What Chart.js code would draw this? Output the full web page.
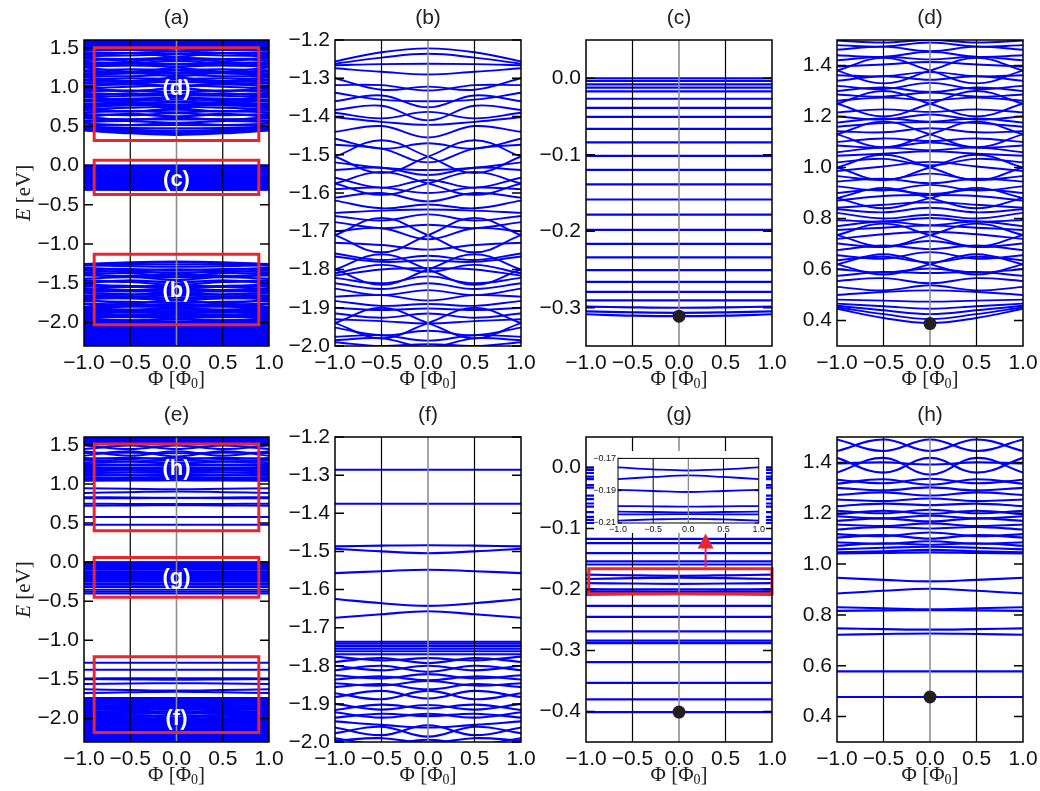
<!DOCTYPE html>
<html lang="en">
<head>
<meta charset="UTF-8">
<title>Flux spectra</title>
<script src="https://cdn.jsdelivr.net/npm/chart.js"></script>
<style>
  body { margin: 0; background: #fff; }
  #fig { position: relative; width: 1040px; height: 791px; overflow: hidden; }
  #fig canvas { position: absolute; }
</style>
</head>
<body>
<div id="fig"></div>
<script>
// flux grid the bands are read at, and tick values
const PHI = [-1, -0.5, 0, 0.5, 1];
const phiTicks = [-1, -0.5, 0, 0.5, 1];
const guidePhi = [-0.5, 0, 0.5];
const yTicksWide = [-2.0, -1.5, -1.0, -0.5, 0.0, 0.5, 1.0, 1.5];
const yTicksB = [-2.0, -1.9, -1.8, -1.7, -1.6, -1.5, -1.4, -1.3, -1.2];
const yTicksC = [-0.3, -0.2, -0.1, 0.0];
const yTicksD = [0.4, 0.6, 0.8, 1.0, 1.2, 1.4];
const yTicksG = [-0.4, -0.3, -0.2, -0.1, 0.0];
const insetTicks = [-0.21, -0.19, -0.17];

// (b) energies at PHI
const bBands = [
  [-1.256,-1.232,-1.222,-1.232,-1.256],
  [-1.262,-1.246,-1.236,-1.246,-1.262],
  [-1.266,-1.263,-1.262,-1.263,-1.266],
  [-1.274,-1.283,-1.290,-1.283,-1.274],
  [-1.300,-1.330,-1.322,-1.330,-1.300],
  [-1.318,-1.318,-1.332,-1.318,-1.318],
  [-1.338,-1.356,-1.360,-1.356,-1.338],
  [-1.360,-1.345,-1.376,-1.345,-1.360],
  [-1.383,-1.372,-1.410,-1.372,-1.383],
  [-1.390,-1.405,-1.388,-1.405,-1.390],
  [-1.402,-1.414,-1.422,-1.414,-1.402],
  [-1.440,-1.425,-1.455,-1.425,-1.440],
  [-1.505,-1.462,-1.505,-1.548,-1.505],
  [-1.505,-1.548,-1.505,-1.462,-1.505],
  [-1.458,-1.484,-1.470,-1.484,-1.458],
  [-1.474,-1.484,-1.520,-1.484,-1.474],
  [-1.520,-1.534,-1.540,-1.534,-1.520],
  [-1.540,-1.534,-1.553,-1.534,-1.540],
  [-1.575,-1.545,-1.575,-1.605,-1.575],
  [-1.575,-1.605,-1.575,-1.545,-1.575],
  [-1.560,-1.586,-1.566,-1.586,-1.560],
  [-1.590,-1.586,-1.600,-1.586,-1.590],
  [-1.612,-1.600,-1.622,-1.600,-1.612],
  [-1.620,-1.640,-1.630,-1.640,-1.620],
  [-1.652,-1.646,-1.643,-1.646,-1.652],
  [-1.660,-1.672,-1.656,-1.672,-1.660],
  [-1.710,-1.665,-1.710,-1.755,-1.710],
  [-1.710,-1.755,-1.710,-1.665,-1.710],
  [-1.676,-1.692,-1.683,-1.692,-1.676],
  [-1.700,-1.692,-1.721,-1.692,-1.700],
  [-1.730,-1.736,-1.748,-1.736,-1.730],
  [-1.758,-1.775,-1.764,-1.775,-1.758],
  [-1.766,-1.780,-1.776,-1.780,-1.766],
  [-1.800,-1.760,-1.800,-1.840,-1.800],
  [-1.800,-1.840,-1.800,-1.760,-1.800],
  [-1.810,-1.788,-1.806,-1.788,-1.810],
  [-1.816,-1.800,-1.796,-1.800,-1.816],
  [-1.822,-1.836,-1.818,-1.836,-1.822],
  [-1.836,-1.851,-1.836,-1.851,-1.836],
  [-1.850,-1.867,-1.854,-1.867,-1.850],
  [-1.871,-1.867,-1.881,-1.867,-1.871],
  [-1.882,-1.895,-1.890,-1.895,-1.882],
  [-1.900,-1.906,-1.902,-1.906,-1.900],
  [-1.915,-1.926,-1.915,-1.926,-1.915],
  [-1.930,-1.935,-1.941,-1.935,-1.930],
  [-1.940,-1.900,-1.940,-1.980,-1.940],
  [-1.940,-1.980,-1.940,-1.900,-1.940],
  [-1.952,-1.972,-1.960,-1.972,-1.952],
  [-1.976,-1.972,-1.986,-1.972,-1.976],
  [-1.990,-2.000,-1.995,-2.000,-1.990],
  [-1.985,-1.980,-2.003,-1.980,-1.985]
];

// (c) flat levels and the slightly bent lowest ones
const cLevels = [0.000,-0.0035,-0.008,-0.0123,-0.0171,-0.0268,-0.0386,-0.0505,-0.0663,-0.0839,
  -0.1015,-0.1199,-0.1388,-0.1585,-0.1783,-0.1981,-0.2165,-0.2341,-0.2508,-0.2661,-0.2793,-0.2903];
const cBands = [
  [-0.2985,-0.2995,-0.3000,-0.2995,-0.2985],
  [-0.3048,-0.3060,-0.3066,-0.3060,-0.3048],
  [-0.3085,-0.3103,-0.3110,-0.3103,-0.3085]
];
const cDot = [0, -0.311];

// (d)
const dBands = [
  [0.446,0.410,0.390,0.410,0.446],
  [0.452,0.425,0.406,0.425,0.452],
  [0.458,0.440,0.425,0.440,0.458],
  [0.466,0.456,0.446,0.456,0.466],
  [0.482,0.478,0.474,0.478,0.482],
  [0.500,0.512,0.518,0.512,0.500],
  [0.532,0.518,0.538,0.518,0.532],
  [0.555,0.566,0.546,0.566,0.555],
  [0.575,0.590,0.586,0.590,0.575],
  [0.602,0.588,0.604,0.588,0.602],
  [0.620,0.580,0.620,0.660,0.620],
  [0.620,0.660,0.620,0.580,0.620],
  [0.636,0.650,0.628,0.650,0.636],
  [0.656,0.642,0.668,0.642,0.656],
  [0.676,0.694,0.680,0.694,0.676],
  [0.702,0.688,0.712,0.688,0.702],
  [0.735,0.690,0.735,0.780,0.735],
  [0.735,0.780,0.735,0.690,0.735],
  [0.720,0.738,0.748,0.738,0.720],
  [0.755,0.764,0.772,0.764,0.755],
  [0.770,0.788,0.774,0.788,0.770],
  [0.794,0.788,0.802,0.788,0.794],
  [0.822,0.800,0.815,0.800,0.822],
  [0.836,0.824,0.842,0.824,0.836],
  [0.842,0.854,0.864,0.854,0.842],
  [0.880,0.840,0.880,0.920,0.880],
  [0.880,0.920,0.880,0.840,0.880],
  [0.870,0.888,0.892,0.888,0.870],
  [0.900,0.914,0.896,0.914,0.900],
  [0.926,0.910,0.932,0.910,0.926],
  [0.945,0.956,0.938,0.956,0.945],
  [0.966,0.952,0.976,0.952,0.966],
  [1.000,0.950,1.000,1.050,1.000],
  [1.000,1.050,1.000,0.950,1.000],
  [0.986,1.004,1.022,1.004,0.986],
  [1.020,1.034,1.008,1.034,1.020],
  [1.046,1.054,1.064,1.054,1.046],
  [1.060,1.078,1.068,1.078,1.060],
  [1.086,1.078,1.098,1.078,1.086],
  [1.100,1.114,1.104,1.114,1.100],
  [1.130,1.080,1.130,1.180,1.130],
  [1.130,1.180,1.130,1.080,1.130],
  [1.142,1.138,1.154,1.138,1.142],
  [1.160,1.174,1.178,1.174,1.160],
  [1.176,1.192,1.180,1.192,1.176],
  [1.200,1.188,1.208,1.188,1.200],
  [1.216,1.228,1.218,1.228,1.216],
  [1.250,1.200,1.250,1.300,1.250],
  [1.250,1.300,1.250,1.200,1.250],
  [1.262,1.274,1.264,1.274,1.262],
  [1.286,1.278,1.294,1.278,1.286],
  [1.300,1.314,1.296,1.314,1.300],
  [1.320,1.308,1.332,1.308,1.320],
  [1.340,1.358,1.344,1.358,1.340],
  [1.362,1.358,1.374,1.358,1.362],
  [1.380,1.330,1.380,1.430,1.380],
  [1.380,1.430,1.380,1.330,1.380],
  [1.396,1.404,1.414,1.404,1.396],
  [1.420,1.434,1.424,1.434,1.420],
  [1.440,1.434,1.454,1.434,1.440],
  [1.462,1.474,1.456,1.474,1.462],
  [1.480,1.474,1.490,1.474,1.480],
  [1.498,1.490,1.500,1.490,1.498]
];
const dDot = [0, 0.388];

// (f)
const fLevels = [-1.286, -1.375, -1.737, -1.742, -1.748, -1.755, -1.762, -1.770];
const fBands = [
  [-1.487,-1.485,-1.484,-1.485,-1.487],
  [-1.493,-1.500,-1.505,-1.500,-1.493],
  [-1.557,-1.552,-1.548,-1.552,-1.557],
  [-1.625,-1.636,-1.643,-1.636,-1.625],
  [-1.674,-1.665,-1.657,-1.665,-1.674],
  [-1.776,-1.786,-1.780,-1.786,-1.776],
  [-1.790,-1.780,-1.793,-1.780,-1.790],
  [-1.800,-1.812,-1.800,-1.812,-1.800],
  [-1.812,-1.800,-1.816,-1.800,-1.812],
  [-1.825,-1.833,-1.822,-1.833,-1.825],
  [-1.836,-1.828,-1.838,-1.828,-1.836],
  [-1.846,-1.852,-1.840,-1.852,-1.846],
  [-1.856,-1.848,-1.862,-1.848,-1.856],
  [-1.872,-1.888,-1.866,-1.888,-1.872],
  [-1.882,-1.866,-1.886,-1.866,-1.882],
  [-1.900,-1.915,-1.903,-1.915,-1.900],
  [-1.916,-1.902,-1.912,-1.902,-1.916],
  [-1.922,-1.936,-1.926,-1.936,-1.922],
  [-1.936,-1.926,-1.932,-1.926,-1.936],
  [-1.946,-1.955,-1.962,-1.955,-1.946],
  [-1.962,-1.982,-1.956,-1.982,-1.962],
  [-1.977,-1.960,-1.986,-1.960,-1.977],
  [-1.996,-1.990,-2.002,-1.990,-1.996],
  [-1.990,-2.006,-1.994,-2.006,-1.990]
];

// (g) and its inset
const gLevels = [0.000,-0.004,-0.009,-0.015,-0.019,-0.029,-0.033,-0.046,-0.052,-0.059,-0.064,-0.073,
  -0.081,-0.086,-0.091,-0.117,-0.124,-0.1405,-0.154,-0.159,-0.227,-0.245,-0.2686,-0.2838,-0.288,
  -0.319,-0.353,-0.380,-0.401];
const gBands = [
  [-0.1755,-0.1768,-0.1775,-0.1768,-0.1755],
  [-0.1828,-0.1815,-0.1805,-0.1815,-0.1828],
  [-0.1895,-0.1902,-0.1908,-0.1902,-0.1895],
  [-0.1995,-0.1997,-0.1999,-0.1997,-0.1995],
  [-0.2030,-0.2032,-0.2034,-0.2032,-0.2030],
  [-0.2047,-0.2046,-0.2045,-0.2046,-0.2047],
  [-0.2085,-0.2078,-0.2074,-0.2078,-0.2085]
];
const gDot = [0, -0.401];
const gBoxPhi = [-0.97, 1.0];
const gBoxE = [-0.207, -0.166];
const gArrowPhi = 0.286;
const gArrowE = [-0.163, -0.108];

// (h)
const hLevels = [0.477, 0.578];
const hBands = [
  [0.722,0.725,0.727,0.725,0.722],
  [0.747,0.744,0.742,0.744,0.747],
  [0.830,0.826,0.822,0.826,0.830],
  [0.816,0.818,0.819,0.818,0.816],
  [0.884,0.895,0.903,0.895,0.884],
  [0.946,0.938,0.932,0.938,0.946],
  [1.042,1.044,1.046,1.044,1.042],
  [1.046,1.050,1.056,1.050,1.046],
  [1.058,1.064,1.068,1.064,1.058],
  [1.072,1.082,1.076,1.082,1.072],
  [1.086,1.080,1.090,1.080,1.086],
  [1.104,1.114,1.100,1.114,1.104],
  [1.118,1.110,1.124,1.110,1.118],
  [1.136,1.146,1.140,1.146,1.136],
  [1.156,1.150,1.160,1.150,1.156],
  [1.170,1.180,1.168,1.180,1.170],
  [1.188,1.180,1.190,1.180,1.188],
  [1.196,1.210,1.198,1.210,1.196],
  [1.210,1.200,1.214,1.200,1.210],
  [1.228,1.238,1.232,1.238,1.228],
  [1.254,1.248,1.258,1.248,1.254],
  [1.272,1.282,1.270,1.282,1.272],
  [1.300,1.290,1.302,1.290,1.300],
  [1.316,1.334,1.312,1.334,1.316],
  [1.332,1.318,1.336,1.318,1.332],
  [1.396,1.400,1.392,1.400,1.396],
  [1.360,1.418,1.352,1.418,1.360],
  [1.418,1.360,1.418,1.360,1.418],
  [1.445,1.490,1.445,1.490,1.445],
  [1.490,1.445,1.490,1.445,1.490]
];
const hDot = [0, 0.477];

// (a), (e): levels outside the zoom windows
const aLowExtra = [-2.006,-2.014,-2.023,-2.031,-2.040,-2.047,-2.056,-2.066,-2.073,-2.081,-2.090,-2.099,
  -2.106,-2.116,-2.125,-2.133,-2.141,-2.152,-2.160,-2.168,-2.177,-2.186,-2.193,-2.203,-2.211,-2.220,
  -2.228,-2.237,-2.246,-2.254,-2.263,-2.271,-2.280,-2.289,-2.298];
const aHighExtra = [1.507,1.515,1.524,1.532,1.541,1.550,1.558,1.566,1.575,1.584,1.592,1.601];
const eLowExtra = [-2.008,-2.017,-2.025,-2.034,-2.043,-2.051,-2.060,-2.068,-2.077,-2.086,-2.094,-2.103,
  -2.112,-2.120,-2.129,-2.138,-2.146,-2.155,-2.164,-2.172,-2.181,-2.190,-2.198,-2.207,-2.216,-2.224,
  -2.233,-2.242,-2.250,-2.259,-2.268,-2.276,-2.285,-2.294];
const eHighExtra = [1.506,1.514,1.523,1.531,1.540,1.549,1.557,1.566,1.574,1.583,1.592,1.600];

// zoom windows marked in (a) and (e)
const boxPhi = [-0.89, 0.89];
const aBoxLo = [0.32, -0.37, -2.03];
const aBoxHi = [1.50, 0.067, -1.13];
const aTags = ['(d)', '(c)', '(b)'];
const aTagE = [0.98, -0.18, -1.60];
const eBoxLo = [0.40, -0.45, -2.18];
const eBoxHi = [1.51, 0.06, -1.21];
const eTags = ['(h)', '(g)', '(f)'];
const eTagE = [1.19, -0.20, -2.00];

const BLUE = '#0000ff', RED = '#e8262c', DOT = '#231f20';
const SANS = "'Liberation Sans', Arial, sans-serif";
const SERIF = "'Liberation Serif', 'DejaVu Serif', serif";
const PAD_L = 84, PAD_T = 40, PAD_R = 26, PAD_B = 50;

function fmt(v, d) {
  return (v < -1e-9 ? '\u2212' : '') + Math.abs(v).toFixed(d);
}

function lineSets(bands, levels, width) {
  const sets = [];
  bands.forEach(b => sets.push({
    data: b.map((y, i) => ({ x: PHI[i], y })),
    borderColor: BLUE, borderWidth: width, pointRadius: 0, tension: 0.4
  }));
  levels.forEach(v => sets.push({
    data: [{ x: -1, y: v }, { x: 1, y: v }],
    borderColor: BLUE, borderWidth: width, pointRadius: 0, tension: 0
  }));
  return sets;
}

function guideSets(yMin, yMax, w) {
  return guidePhi.map(v => ({
    data: [{ x: v, y: yMin }, { x: v, y: yMax }],
    borderColor: v === 0 ? '#8c8c8c' : '#000',
    borderWidth: v === 0 ? w * 1.3 : w, pointRadius: 0, tension: 0, order: -1
  }));
}

function dotSet(dot) {
  return {
    data: [{ x: dot[0], y: dot[1] }], showLine: false,
    pointRadius: 6.5, pointBackgroundColor: DOT, pointBorderWidth: 0, order: -3, clip: false
  };
}

function boxSet(phi, lo, hi) {
  const pts = [[0, lo], [phi[1], lo], [phi[1], hi], [phi[0], hi], [phi[0], lo], [0, lo]];
  return {
    data: pts.map(p => ({ x: p[0], y: p[1] })),
    borderColor: RED, borderWidth: 3, pointRadius: 0, tension: 0, order: -2,
    clip: false, borderJoinStyle: 'miter'
  };
}

function drawPhiLabel(ctx, cx, cy) {
  const big = '21px ' + SERIF, small = '14px ' + SERIF;
  ctx.font = big;
  const w1 = ctx.measureText('\u03a6 [\u03a6').width, w3 = ctx.measureText(']').width;
  ctx.font = small;
  const w2 = ctx.measureText('0').width;
  let xx = cx - (w1 + w2 + w3) / 2;
  ctx.textAlign = 'left'; ctx.textBaseline = 'middle'; ctx.fillStyle = '#222';
  ctx.font = big; ctx.fillText('\u03a6 [\u03a6', xx, cy); xx += w1;
  ctx.font = small; ctx.fillText('0', xx, cy + 5); xx += w2;
  ctx.font = big; ctx.fillText(']', xx, cy);
}

function drawEnergyLabel(ctx, cx, cy) {
  ctx.save();
  ctx.translate(cx, cy);
  ctx.rotate(-Math.PI / 2);
  const it = 'italic 21px ' + SERIF, up = '21px ' + SERIF;
  ctx.font = it;
  const w1 = ctx.measureText('E').width;
  ctx.font = up;
  const w2 = ctx.measureText(' [eV]').width;
  const xx = -(w1 + w2) / 2;
  ctx.textAlign = 'left'; ctx.textBaseline = 'middle'; ctx.fillStyle = '#222';
  ctx.font = it; ctx.fillText('E', xx, 0);
  ctx.font = up; ctx.fillText(' [eV]', xx + w1, 0);
  ctx.restore();
}

const decoPlugin = {
  id: 'deco',
  beforeDraw(chart, args, o) {
    if (o.white) {
      chart.ctx.save();
      chart.ctx.fillStyle = '#fff';
      chart.ctx.fillRect(0, 0, chart.width, chart.height);
      chart.ctx.restore();
    }
  },
  afterDraw(chart, args, o) {
    const { ctx, chartArea: a, scales: { x, y } } = chart;
    ctx.save();
    if (o.tags) {
      ctx.fillStyle = '#fff';
      ctx.font = 'bold 22px ' + SANS;
      ctx.textAlign = 'center'; ctx.textBaseline = 'middle';
      o.tags.forEach((t, i) => ctx.fillText(t, x.getPixelForValue(0), y.getPixelForValue(o.tagE[i])));
    }
    if (o.arrow) {
      const px = x.getPixelForValue(o.arrow.phi);
      const p0 = y.getPixelForValue(o.arrow.from), p1 = y.getPixelForValue(o.arrow.to);
      ctx.strokeStyle = RED; ctx.fillStyle = RED; ctx.lineWidth = 2;
      ctx.beginPath(); ctx.moveTo(px, p0); ctx.lineTo(px, p1 + 14); ctx.stroke();
      ctx.beginPath(); ctx.moveTo(px, p1); ctx.lineTo(px - 8, p1 + 15); ctx.lineTo(px + 8, p1 + 15);
      ctx.closePath(); ctx.fill();
    }
    ctx.strokeStyle = '#000';
    ctx.lineWidth = o.frame;
    ctx.strokeRect(a.left, a.top, a.right - a.left, a.bottom - a.top);
    y.ticks.forEach(t => {
      const py = y.getPixelForValue(t.value);
      ctx.beginPath();
      ctx.moveTo(a.left, py); ctx.lineTo(a.left + o.tick, py);
      ctx.moveTo(a.right, py); ctx.lineTo(a.right - o.tick, py);
      ctx.stroke();
    });
    if (o.title) {
      ctx.fillStyle = '#222';
      ctx.font = '21px ' + SANS;
      ctx.textAlign = 'center'; ctx.textBaseline = 'middle';
      ctx.fillText(o.title, (a.left + a.right) / 2, a.top - 22);
      drawPhiLabel(ctx, (a.left + a.right) / 2, a.bottom + 33);
    }
    if (o.yTitle) drawEnergyLabel(ctx, 24, (a.top + a.bottom) / 2);
    ctx.restore();
  }
};

const fig = document.getElementById('fig');
function addCanvas(left, top, w, h) {
  const c = document.createElement('canvas');
  c.width = w; c.height = h;
  c.style.left = left + 'px'; c.style.top = top + 'px';
  c.style.width = w + 'px'; c.style.height = h + 'px';
  fig.appendChild(c);
  return c;
}

function makeChart(canvas, p) {
  return new Chart(canvas, {
    type: 'line',
    data: { datasets: p.datasets },
    options: {
      responsive: false, animation: false, events: [],
      layout: { padding: p.pad },
      plugins: { legend: { display: false }, tooltip: { enabled: false }, deco: p.deco },
      scales: {
        x: {
          type: 'linear', min: -1, max: 1,
          afterBuildTicks: s => { s.ticks = phiTicks.map(v => ({ value: v })); },
          afterFit: s => { s.height = p.xh; },
          grid: { display: false, drawTicks: false }, border: { display: false },
          ticks: { color: '#111', font: { family: SANS, size: p.fs }, padding: p.xpad,
                   autoSkip: false, maxRotation: 0, callback: v => fmt(v, 1) }
        },
        y: {
          type: 'linear', min: p.yr[0], max: p.yr[1],
          afterBuildTicks: s => { s.ticks = p.yTicks.map(v => ({ value: v })); },
          afterFit: s => { s.width = p.yw; },
          grid: { display: false, drawTicks: false }, border: { display: false },
          ticks: { color: '#111', font: { family: SANS, size: p.fs }, padding: p.ypad,
                   autoSkip: false, callback: v => fmt(v, p.dec) }
        }
      }
    },
    plugins: [decoPlugin]
  });
}

function panel(left, top, w, h, spec) {
  const c = addCanvas(left - PAD_L, top - PAD_T, w + PAD_L + PAD_R, h + PAD_T + PAD_B);
  const sets = spec.lines.concat(guideSets(spec.yr[0], spec.yr[1], 1.2), spec.extra || []);
  return makeChart(c, {
    datasets: sets, yr: spec.yr, yTicks: spec.yTicks, dec: spec.dec || 1,
    pad: { left: 0, top: PAD_T, right: PAD_R, bottom: 0 },
    xh: PAD_B, yw: PAD_L, fs: 21, xpad: 5, ypad: 5,
    deco: Object.assign({ title: spec.title, frame: 1.5, tick: 9 }, spec.deco || {})
  });
}

const COLS = [[84, 185], [335, 186], [586, 186], [837, 186]];
const ROWS = [[40, 306], [437, 305]];

// (a)
panel(COLS[0][0], ROWS[0][0], COLS[0][1], ROWS[0][1], {
  title: '(a)', yr: [-2.3, 1.6], yTicks: yTicksWide,
  lines: lineSets(bBands.concat(dBands, cBands), cLevels.concat(aLowExtra, aHighExtra), 2),
  extra: aTags.map((t, i) => boxSet(boxPhi, aBoxLo[i], aBoxHi[i])),
  deco: { yTitle: true, tags: aTags, tagE: aTagE }
});
// (b)
panel(COLS[1][0], ROWS[0][0], COLS[1][1], ROWS[0][1], {
  title: '(b)', yr: [-2.0, -1.2], yTicks: yTicksB, lines: lineSets(bBands, [], 1.9)
});
// (c)
panel(COLS[2][0], ROWS[0][0], COLS[2][1], ROWS[0][1], {
  title: '(c)', yr: [-0.35, 0.05], yTicks: yTicksC, lines: lineSets(cBands, cLevels, 2.2),
  extra: [dotSet(cDot)]
});
// (d)
panel(COLS[3][0], ROWS[0][0], COLS[3][1], ROWS[0][1], {
  title: '(d)', yr: [0.3, 1.5], yTicks: yTicksD, lines: lineSets(dBands, [], 1.9),
  extra: [dotSet(dDot)]
});
// (e)
panel(COLS[0][0], ROWS[1][0], COLS[0][1], ROWS[1][1], {
  title: '(e)', yr: [-2.3, 1.6], yTicks: yTicksWide,
  lines: lineSets(fBands.concat(gBands, hBands), fLevels.concat(gLevels, hLevels, eLowExtra, eHighExtra), 2),
  extra: eTags.map((t, i) => boxSet(boxPhi, eBoxLo[i], eBoxHi[i])),
  deco: { yTitle: true, tags: eTags, tagE: eTagE }
});
// (f)
panel(COLS[1][0], ROWS[1][0], COLS[1][1], ROWS[1][1], {
  title: '(f)', yr: [-2.0, -1.2], yTicks: yTicksB, lines: lineSets(fBands, fLevels, 2.1)
});
// (g)
panel(COLS[2][0], ROWS[1][0], COLS[2][1], ROWS[1][1], {
  title: '(g)', yr: [-0.45, 0.05], yTicks: yTicksG, lines: lineSets(gBands, gLevels, 2.2),
  extra: [dotSet(gDot), boxSet(gBoxPhi, gBoxE[0], gBoxE[1])],
  deco: { arrow: { phi: gArrowPhi, from: gArrowE[0], to: gArrowE[1] } }
});
// (h)
panel(COLS[3][0], ROWS[1][0], COLS[3][1], ROWS[1][1], {
  title: '(h)', yr: [0.3, 1.5], yTicks: yTicksD, lines: lineSets(hBands, hLevels, 2.1),
  extra: [dotSet(hDot)]
});

// inset of (g)
const insetCanvas = addCanvas(594, 451, 172, 82);
makeChart(insetCanvas, {
  datasets: lineSets(gBands, gLevels, 1.8).concat(guideSets(-0.21, -0.17, 1)),
  yr: [-0.21, -0.17], yTicks: insetTicks, dec: 2,
  pad: { left: 0, top: 6, right: 7, bottom: 0 },
  xh: 10, yw: 24, fs: 9, xpad: 1, ypad: 2,
  deco: { white: true, frame: 1, tick: 4 }
});
</script>
</body>
</html>
